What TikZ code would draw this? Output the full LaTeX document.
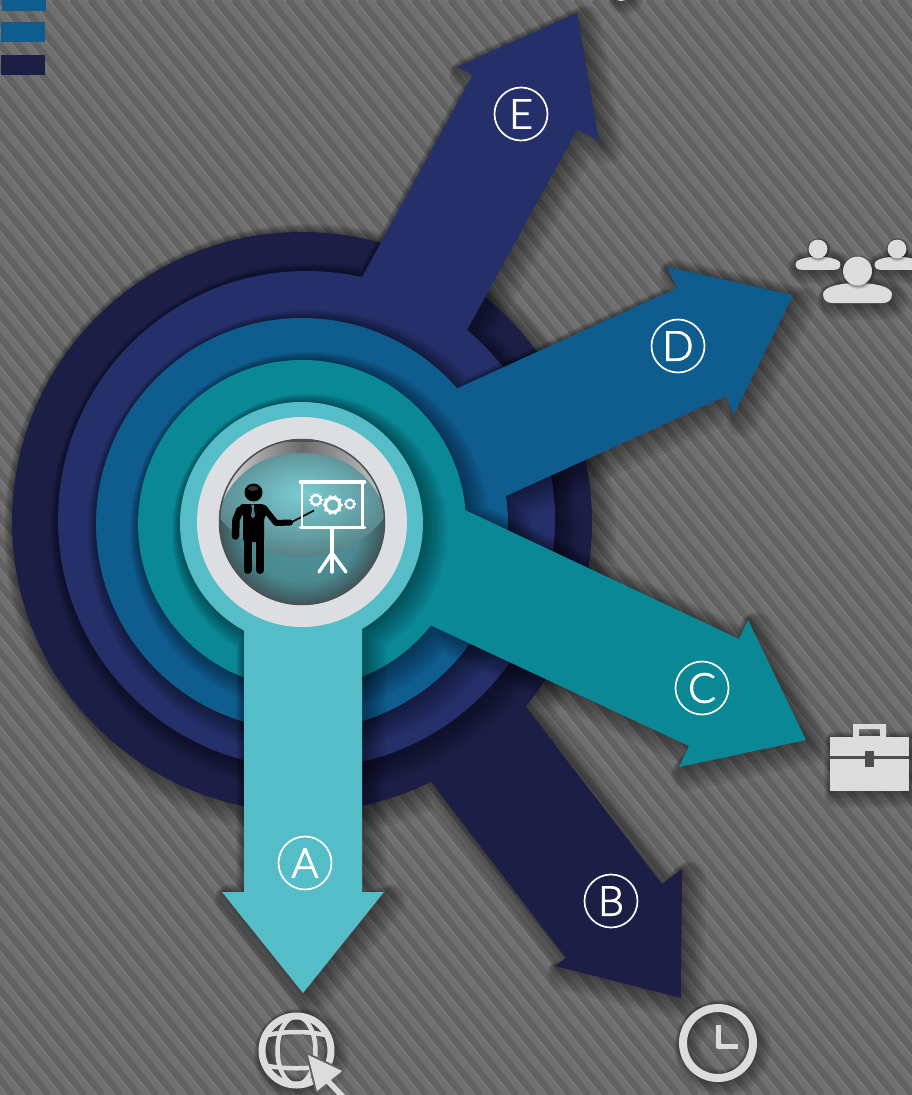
\documentclass[tikz,border=0pt]{standalone}
\usepackage{fontspec}
\setmainfont{Carlito}
\newfontfamily\letterfont[FakeBold=2.4]{Lato Light}
\usetikzlibrary{calc}
\definecolor{cNavy}{HTML}{1C1E46}
\definecolor{cBlue}{HTML}{25306A}
\definecolor{cSea}{HTML}{0F5C8F}
\definecolor{cTeal}{HTML}{0A8896}
\definecolor{cAqua}{HTML}{55BDC8}
\definecolor{cRing}{HTML}{DCDEE2}
\definecolor{cIcon}{HTML}{DCDCDC}
\definecolor{cBg}{HTML}{707070}
\definecolor{cBgDark}{HTML}{626262}
\definecolor{cBgLine}{HTML}{888888}
\definecolor{ballA}{HTML}{4F979E}
\definecolor{ballB}{HTML}{4A8A90}
\definecolor{ballC}{HTML}{405C61}
\definecolor{ballD}{HTML}{4C5154}
\definecolor{lensA}{HTML}{7ACCD2}
\definecolor{lensB}{HTML}{68AAB0}
\definecolor{lensC}{HTML}{567C80}
\pgfdeclareradialshading{ballbase}{\pgfpoint{0bp}{0bp}}{color(0bp)=(ballA); color(18bp)=(ballB); color(24bp)=(ballC); color(25bp)=(ballD); color(50bp)=(ballD)}
\pgfdeclareradialshading{balllens}{\pgfpoint{0bp}{6bp}}{color(0bp)=(lensA); color(14bp)=(lensB); color(30bp)=(lensC); color(50bp)=(lensC)}
\newcommand\softshadow[2][1]{\foreach \w in {32,28,...,4}{\pgfmathsetmacro\sh{\w*.25*#1}\pgfmathsetmacro\lw{\w*#1}\path[draw=black,opacity=.055,line join=round,line width=\lw pt,shift={(\sh,\sh)}] #2;}}
\newcommand\softstroke[3][.6]{\foreach \w in {32,28,...,4}{\pgfmathsetmacro\sh{\w*.25*#1}\pgfmathsetmacro\lw{#2+\w*#1}\path[draw=black,opacity=.05,line cap=round,line join=round,line width=\lw pt,shift={(\sh,\sh)}] #3;}}
\newcommand\layerfill[2]{\softshadow{#2}\fill[#1] #2;}
\tikzset{
  letter/.style={circle,draw=white,line width=1.7pt,minimum size=53pt,inner sep=0pt,text=white,font=\letterfont\fontsize{41}{41}\selectfont},
  iconline/.style={draw=cIcon,line cap=round,line join=round},
  boardline/.style={draw=white,line cap=round}
}
\newcommand\guest[3]{%
  \begin{scope}[shift={(#1,#2)},scale=#3]
    \def\bodypath{(-34.5,23) .. controls (-34,15) and (-15,12) .. (0,12) .. controls (15,12) and (34,15) .. (34.5,23) .. controls (34.5,29) and (31,32) .. (25,32) -- (-25,32) .. controls (-31,32) and (-34.5,29) .. (-34.5,23) -- cycle}
    \softshadow[.7]{\bodypath}\fill[cIcon] \bodypath;
    \softshadow[.15]{(0,0) circle[radius=14.5]}\fill[cIcon] (0,0) circle[radius=14.5];
  \end{scope}}
\newcommand\gear[3]{%
  \draw[white,line width=#3*.32pt] (#1,#2) circle[radius=#3*.72];
  \foreach \a in {0,36,...,324}{\draw[white,line width=#3*.2pt] ($(#1,#2)+(\a:#3*.8)$) -- ($(#1,#2)+(\a:#3)$);}}
\begin{document}
\begin{tikzpicture}[x=1pt,y=-1pt]
\useasboundingbox (0,0) rectangle (912,1095);
\clip (0,0) rectangle (912,1095);
% background
\fill[cBg] (0,0) rectangle (912,1095);
\foreach \xa in {-900,-882,...,912}{
  \pgfmathsetmacro\xb{\xa+876}
  \draw[cBgDark,line width=7pt] (\xa,0) -- (\xb,1095);
  \draw[cBgLine,line width=.5pt] (\xa-4.7,0) -- (\xb-4.7,1095);
}
% legend
\fill[cSea] (2,-5) rectangle (46,11);
\fill[cSea] (1,22) rectangle (45,42);
\fill[cNavy] (1,55) rectangle (45,75);
% partial icon at top edge
\softshadow[.6]{(621,-8) circle[radius=9]}
\fill[cIcon] (621,-8) circle[radius=9];
% layers
\def\layerB{(302,522) circle[radius=290] (449,606) -- (527,708) -- (662,884) -- (682,869) -- (681,998) -- (555,966) -- (566,958) -- (432,783) -- (354,681) -- cycle}
\def\layerE{(306.5,519.5) circle[radius=248.5] (307,377) -- (362,277) -- (473,75) -- (457,67) -- (577,13) -- (599,141) -- (577,130) -- (467,330) -- (412,430) -- cycle}
\def\layerD{(302,524) circle[radius=206] (384,421) -- (458,388) -- (677,288) -- (667,267) -- (793,295) -- (734,414) -- (726,396) -- (506,496) -- (432,529) -- cycle}
\def\layerC{(302,524) circle[radius=164] (391,475) -- (465,510) -- (739,639) -- (748,620) -- (806,740) -- (679,767) -- (689,746) -- (430,625) -- (356,590) -- cycle}
\def\layerA{(301.5,523.5) circle[radius=121.5] (362,600) -- (362,892) -- (384,892) -- (303,993) -- (222,892) -- (244,892) -- (244,600) -- cycle}
\layerfill{cNavy}{\layerB}
\layerfill{cBlue}{\layerE}
\layerfill{cSea}{\layerD}
\layerfill{cTeal}{\layerC}
\layerfill{cAqua}{\layerA}
% ring and ball
\fill[cRing] (302,522) circle[radius=105];
\begin{scope}
  \clip (302,522) circle[radius=83];
  \shade[shading=ballbase] (302,522) circle[radius=83];
  \shade[left color=black!15,right color=black!22,middle color=black!58] (219,442) rectangle (385,515);
  \shade[shading=balllens] (217,514) .. controls (235,465) and (270,453) .. (302,453) .. controls (334,453) and (369,465) .. (387,514) .. controls (365,545) and (335,557) .. (302,557) .. controls (269,557) and (239,545) .. (217,514) -- cycle;
\end{scope}
\draw[ballD,line width=1.5pt] (302,522) circle[radius=82.5];
% presenter
\fill[black] (253.5,492.5) circle[radius=9];
\fill[white,opacity=.2] (253,488.5) ellipse[x radius=5,y radius=2.5];
\fill[black,rounded corners=3pt] (240,504) -- (264,504) -- (270,510) -- (264,518) -- (264,542) -- (243,542) -- (243,514) -- (239,510) -- cycle;
\draw[black,line width=7.5pt,line cap=round,line join=round] (240,510) -- (236,520) -- (235.5,536);
\draw[black,line width=8pt,line cap=round] (247.5,540) -- (247.5,570);
\draw[black,line width=8pt,line cap=round] (260,540) -- (260,570);
\draw[black,line width=6pt,line cap=round,line join=round] (264,508) -- (276,523) -- (290,522.5);
\draw[black,line width=1.6pt] (290,523) -- (314,510.5);
\fill[lensC] (251,504.5) -- (254.5,504.5) -- (254,509) -- (255,516) -- (253,518) -- (251,516) -- (252,509) -- cycle;
% board
\draw[boardline,line width=3.6pt] (300.5,482) -- (364.5,482);
\draw[boardline,line width=3.6pt] (300.5,527.5) -- (364.5,527.5);
\draw[white,line width=2.2pt] (302,482) -- (302,527.5);
\draw[white,line width=2.2pt] (362.5,482) -- (362.5,527.5);
\draw[boardline,line width=3.4pt] (332,527.5) -- (332,572);
\draw[boardline,line width=3.4pt] (332,553) -- (319,572);
\draw[boardline,line width=3.4pt] (332,553) -- (346,572);
\gear{316}{500}{6.8}
\gear{332.7}{505}{10}
\gear{350}{504}{5.8}
% letters
\node[letter] (labelA) at (305,863) {A};
\node[letter] (labelB) at (611,901) {B};
\node[letter] (labelC) at (702,688) {C};
\node[letter] (labelD) at (678,346) {D};
\node[letter] (labelE) at (521,114) {E};
% people icon
\guest{818}{249}{.65}
\guest{897}{249}{.65}
\guest{857.5}{271}{1}
% briefcase
\def\caseshape{(830,737) rectangle (909,791)}
\softshadow[.7]{\caseshape}
\fill[cIcon,even odd rule] (853,724) rectangle (886,737) (859,729) rectangle (880,736);
\fill[cIcon] (830,737) rectangle (909,756);
\fill[cIcon] (830,759) rectangle (909,791);
\fill[black!30!cBg] (830,756) rectangle (909,759);
\fill[black!30!cBg] (865,751) rectangle (874,767);
% clock
\softstroke{8}{(718,1043) circle[radius=35]}
\draw[iconline,line width=8pt] (718,1043) circle[radius=35];
\draw[iconline,line width=5pt,line cap=butt] (718,1025) -- (718,1046.5) -- (738,1046.5);
% globe
\softstroke{7}{(296.5,1050.5) circle[radius=34.5]}
\draw[iconline,line width=7pt] (296.5,1050.5) circle[radius=34.5];
\draw[iconline,line width=4.5pt] (296.5,1050.5) ellipse[x radius=19,y radius=34];
\draw[iconline,line width=4.5pt] (268,1035) .. controls (285,1031) and (308,1031) .. (325,1035);
\draw[iconline,line width=4.5pt] (268,1066) .. controls (285,1069) and (308,1069) .. (325,1066);
\def\pointerhead{(308,1055) -- (342,1071) -- (317,1091) -- cycle}
\draw[cBgDark,line width=4pt,line join=round] \pointerhead;
\draw[iconline,line width=5.5pt,line cap=butt] (327,1080) -- (346,1100);
\fill[cIcon] \pointerhead;
\end{tikzpicture}
\end{document}
